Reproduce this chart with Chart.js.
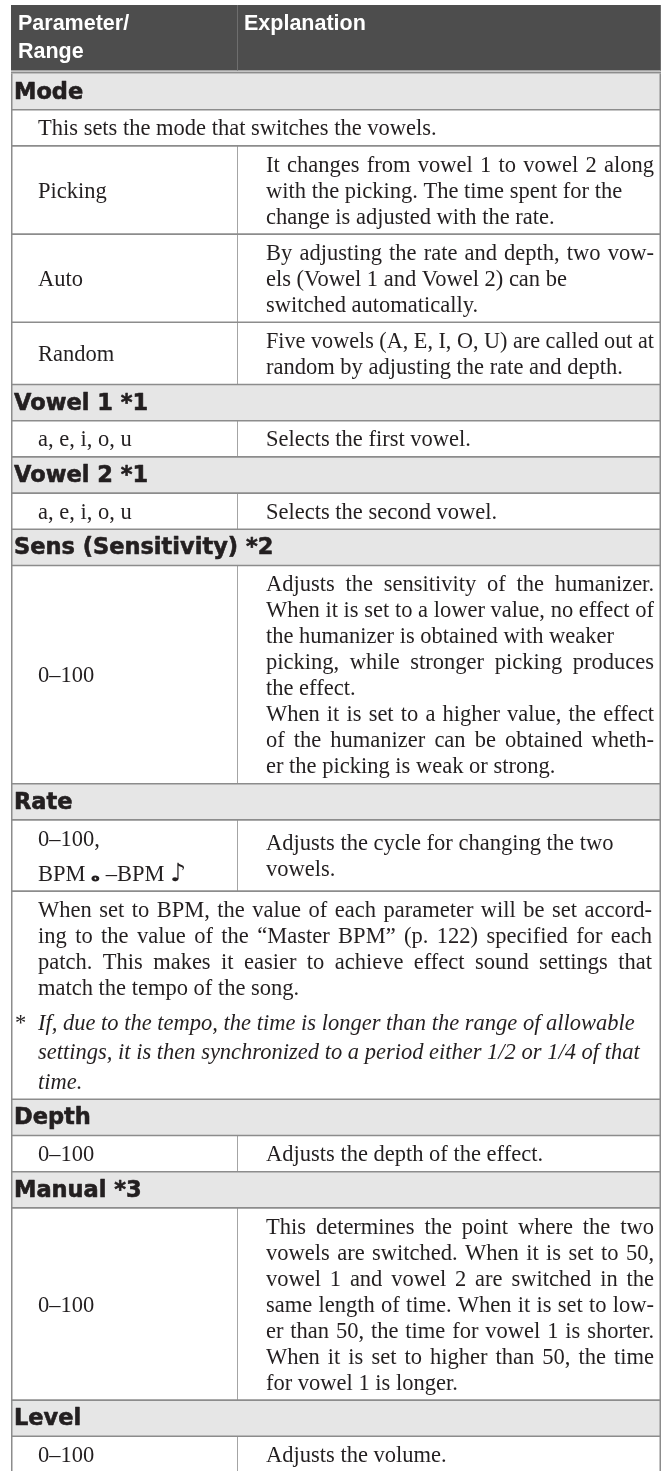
<!DOCTYPE html>
<html>
<head>
<meta charset="utf-8">
<script src="https://cdn.jsdelivr.net/npm/chart.js@4.4.1/dist/chart.umd.min.js"></script>
<style>
html,body{margin:0;padding:0;background:#ffffff;}
canvas{display:block;}
</style>
</head>
<body>
<canvas id="c" width="665" height="1471"></canvas>
<script>
// ---------- DATA ----------
const headerParam = ["Parameter/", "Range"];
const headerExpl = ["Explanation"];
const sectionTitles = ["Mode", "Vowel 1 *1", "Vowel 2 *1", "Sens (Sensitivity) *2", "Rate", "Depth", "Manual *3", "Level"];
const modeIntro = ["This sets the mode that switches the vowels."];
const modeParams = ["Picking", "Auto", "Random"];
const modeExpl = [
  ["It changes from vowel 1 to vowel 2 along", "with the picking. The time spent for the", "change is adjusted with the rate."],
  ["By adjusting the rate and depth, two vow-", "els (Vowel 1 and Vowel 2) can be", "switched automatically."],
  ["Five vowels (A, E, I, O, U) are called out at", "random by adjusting the rate and depth."]
];
const vowel1Params = ["a, e, i, o, u"];
const vowel1Expl = ["Selects the first vowel."];
const vowel2Params = ["a, e, i, o, u"];
const vowel2Expl = ["Selects the second vowel."];
const sensParams = ["0\u2013100"];
const sensExpl = [
  ["Adjusts the sensitivity of the humanizer.", "When it is set to a lower value, no effect of", "the humanizer is obtained with weaker", "picking, while stronger picking produces", "the effect."],
  ["When it is set to a higher value, the effect", "of the humanizer can be obtained wheth-", "er the picking is weak or strong."]
];
const rateParams = ["0\u2013100,", "BPM \u{1D15D} \u2013BPM \u266A"];
const rateExpl = ["Adjusts the cycle for changing the two", "vowels."];
const rateBpmText = [
  "When set to BPM, the value of each parameter will be set accord-",
  "ing to the value of the \u201CMaster BPM\u201D (p. 122) specified for each",
  "patch. This makes it easier to achieve effect sound settings that",
  "match the tempo of the song."
];
const rateFootnoteMark = "*";
const rateFootnote = [
  "If, due to the tempo, the time is longer than the range of allowable",
  "settings, it is then synchronized to a period either 1/2 or 1/4 of that",
  "time."
];
const depthParams = ["0\u2013100"];
const depthExpl = ["Adjusts the depth of the effect."];
const manualParams = ["0\u2013100"];
const manualExpl = [
  "This determines the point where the two", "vowels are switched. When it is set to 50,",
  "vowel 1 and vowel 2 are switched in the", "same length of time. When it is set to low-",
  "er than 50, the time for vowel 1 is shorter.", "When it is set to higher than 50, the time",
  "for vowel 1 is longer."
];
const levelParams = ["0\u2013100"];
const levelExpl = ["Adjusts the volume."];

// ---------- LAYOUT / STYLE CONSTANTS ----------
const CW = 665, CH = 1471;
const TABLE_TOP = 5, TABLE_LEFT = 11, TABLE_RIGHT = 661, COL_X = 237;
const HEADER_H = 65.5, HEADER_RULE_GAP = 1, HEADER_RULE_W = 2;
const ROW_H = 36.2, LINE = 26, NOTE_GAP = 35, NOTE_LINE = 29.5, MUSIC_LINE = 35;
const SECTION_X = 14, PARAM_X = 38, EXPL_X = 266, EXPL_RIGHT = 654, SPAN_X = 38, SPAN_RIGHT = 652, STAR_X = 15;
const HDR_PARAM_X = 18, HDR_EXPL_X = 244, HDR_BASE = 24.5, HDR_LINE = 28;
const BODY_BASE = 7.5, SECTION_BASE = 7;
const JUSTIFY_MIN = 0.92;
const BODY_FONT = '22.5px "Liberation Serif"';
const ITALIC_FONT = 'italic 22.5px "Liberation Serif"';
const SECTION_FONT = 'bold 22.5px "DejaVu Sans"';
const HEAD_FONT = 'bold 21.5px "Liberation Sans"';
const TEXT_COLOR = '#231f20', HEADER_BG = '#4d4d4d', HEADER_DIV = '#6e6e6e', SECTION_BG = '#e6e6e6';
const BORDER = '#8c8c8c', DIVIDER = '#a4a4a4';

// ---------- TABLE STRUCTURE (built from data arrays) ----------
const rows = [];
rows.push({kind: 'header', param: headerParam, expl: headerExpl});
rows.push({kind: 'section', title: sectionTitles[0]});
rows.push({kind: 'span', paras: [modeIntro]});
modeParams.forEach((p, i) => rows.push({kind: 'pair', param: [p], expl: [modeExpl[i]]}));
rows.push({kind: 'section', title: sectionTitles[1]});
rows.push({kind: 'pair', param: vowel1Params, expl: [vowel1Expl]});
rows.push({kind: 'section', title: sectionTitles[2]});
rows.push({kind: 'pair', param: vowel2Params, expl: [vowel2Expl]});
rows.push({kind: 'section', title: sectionTitles[3]});
rows.push({kind: 'pair', param: sensParams, expl: sensExpl});
rows.push({kind: 'section', title: sectionTitles[4]});
rows.push({kind: 'pair', param: rateParams, expl: [rateExpl], paramAdvance: MUSIC_LINE});
rows.push({kind: 'span', paras: [rateBpmText], note: rateFootnote, noteMark: rateFootnoteMark});
rows.push({kind: 'section', title: sectionTitles[5]});
rows.push({kind: 'pair', param: depthParams, expl: [depthExpl]});
rows.push({kind: 'section', title: sectionTitles[6]});
rows.push({kind: 'pair', param: manualParams, expl: [manualExpl]});
rows.push({kind: 'section', title: sectionTitles[7]});
rows.push({kind: 'pair', param: levelParams, expl: [levelExpl]});

function rowHeight(r) {
  if (r.kind === 'header') return HEADER_H;
  if (r.kind === 'section') return ROW_H;
  if (r.kind === 'pair') {
    const pl = r.param.length, el = r.expl.flat().length;
    const pAdv = r.paramAdvance || LINE;
    return ROW_H + Math.max((pl - 1) * pAdv, (el - 1) * LINE);
  }
  let h = ROW_H + (r.paras.flat().length - 1) * LINE;
  if (r.note) h += NOTE_GAP + (r.note.length - 1) * NOTE_LINE;
  return h;
}
let yCursor = TABLE_TOP;
rows.forEach(r => {
  r.top = yCursor;
  r.h = rowHeight(r);
  yCursor += r.h;
  if (r.kind === 'header') yCursor += HEADER_RULE_GAP + HEADER_RULE_W;
});

// ---------- DRAW HELPERS ----------
function drawLine(ctx, text, x, baseline, maxW, justify) {
  const nat = ctx.measureText(text).width;
  if (justify && nat < maxW && nat >= JUSTIFY_MIN * maxW) {
    const words = text.split(' ');
    if (words.length > 1) {
      const wordsW = words.reduce((s, w) => s + ctx.measureText(w).width, 0);
      const gap = (maxW - wordsW) / (words.length - 1);
      let cx = x;
      words.forEach(w => { ctx.fillText(w, cx, baseline); cx += ctx.measureText(w).width + gap; });
      return;
    }
  }
  if (nat > maxW) {
    ctx.save(); ctx.translate(x, baseline); ctx.scale(maxW / nat, 1); ctx.fillText(text, 0, 0); ctx.restore();
    return;
  }
  ctx.fillText(text, x, baseline);
}

function glyphAvailable(ctx, ch, font) {
  ctx.save();
  ctx.font = font;
  const a = ctx.measureText(ch).width, b = ctx.measureText('\u{10FFFD}').width;
  ctx.restore();
  return Math.abs(a - b) > 0.5;
}

function drawMusicLine(ctx, text, x, baseline) {
  const parts = Array.from(text);
  let cx = x;
  let buf = '';
  const flush = () => { if (buf) { ctx.font = BODY_FONT; ctx.fillText(buf, cx, baseline); cx += ctx.measureText(buf).width; buf = ''; } };
  parts.forEach(ch => {
    if (ch === '\u{1D15D}') {
      flush();
      if (glyphAvailable(ctx, ch, '22px "DejaVu Sans"')) {
        ctx.font = 'bold 22px "DejaVu Sans"';
        ctx.fillText(ch, cx, baseline);
        cx += ctx.measureText(ch).width;
      } else {
        ctx.font = 'bold 14px "DejaVu Serif"';
        ctx.fillText('o', cx + 1, baseline + 1);
        cx += ctx.measureText('o').width + 2;
      }
    } else if (ch === '\u266A') {
      flush();
      ctx.font = '25px "DejaVu Sans"';
      ctx.fillText(ch, cx, baseline);
      cx += ctx.measureText(ch).width;
    } else {
      buf += ch;
    }
  });
  flush();
}

// ---------- CHART.JS PLUGIN THAT DRAWS THE CELLS THROUGH THE SCALES ----------
const tablePlugin = {
  id: 'tableCells',
  beforeDraw(chart) {
    const ctx = chart.ctx;
    ctx.save();
    ctx.fillStyle = '#ffffff';
    ctx.fillRect(0, 0, chart.width, chart.height);
    ctx.restore();
  },
  afterDraw(chart) {
    const ctx = chart.ctx, xs = chart.scales.x, ys = chart.scales.y;
    const X = v => xs.getPixelForValue(v);
    const Y = v => ys.getPixelForValue(v);
    const L = X(TABLE_LEFT), R = X(TABLE_RIGHT);
    ctx.save();

    rows.forEach(r => {
      if (r.kind === 'header' || r.kind === 'section') {
        ctx.fillStyle = r.kind === 'header' ? HEADER_BG : SECTION_BG;
        ctx.fillRect(L, Y(r.top), R - L, Y(r.top + r.h) - Y(r.top));
      }
    });

    const header = rows[0];
    ctx.strokeStyle = HEADER_DIV; ctx.lineWidth = 1;
    ctx.beginPath(); ctx.moveTo(X(COL_X) + 0.5, Y(header.top)); ctx.lineTo(X(COL_X) + 0.5, Y(header.top + header.h)); ctx.stroke();
    ctx.beginPath(); ctx.moveTo(R - 0.5, Y(header.top)); ctx.lineTo(R - 0.5, Y(header.top + header.h)); ctx.stroke();
    ctx.fillStyle = BORDER;
    const ruleY = header.top + header.h + HEADER_RULE_GAP;
    ctx.fillRect(L, Y(ruleY), R - L, Y(ruleY + HEADER_RULE_W) - Y(ruleY));

    ctx.strokeStyle = DIVIDER; ctx.lineWidth = 1;
    rows.forEach(r => {
      if (r.kind === 'pair') {
        ctx.beginPath(); ctx.moveTo(X(COL_X) + 0.5, Y(r.top)); ctx.lineTo(X(COL_X) + 0.5, Y(r.top + r.h)); ctx.stroke();
      }
    });

    ctx.strokeStyle = BORDER; ctx.lineWidth = 1.6;
    rows.forEach((r, i) => {
      if (i >= 2) { ctx.beginPath(); ctx.moveTo(L, Y(r.top)); ctx.lineTo(R, Y(r.top)); ctx.stroke(); }
    });
    const last = rows[rows.length - 1];
    ctx.beginPath(); ctx.moveTo(L, Y(last.top + last.h)); ctx.lineTo(R, Y(last.top + last.h)); ctx.stroke();
    ctx.lineWidth = 1.5;
    const bodyTop = rows[1].top;
    ctx.beginPath(); ctx.moveTo(L + 0.75, Y(bodyTop)); ctx.lineTo(L + 0.75, Y(last.top + last.h)); ctx.stroke();
    ctx.beginPath(); ctx.moveTo(R - 0.75, Y(bodyTop)); ctx.lineTo(R - 0.75, Y(last.top + last.h)); ctx.stroke();

    ctx.textBaseline = 'alphabetic';
    ctx.textAlign = 'left';
    rows.forEach(r => {
      if (r.kind === 'header') {
        ctx.font = HEAD_FONT; ctx.fillStyle = '#ffffff';
        r.param.forEach((t, i) => ctx.fillText(t, X(HDR_PARAM_X), Y(r.top + HDR_BASE + i * HDR_LINE)));
        r.expl.forEach((t, i) => ctx.fillText(t, X(HDR_EXPL_X), Y(r.top + HDR_BASE + i * HDR_LINE)));
        return;
      }
      ctx.fillStyle = TEXT_COLOR;
      if (r.kind === 'section') {
        ctx.font = SECTION_FONT;
        ctx.strokeStyle = TEXT_COLOR; ctx.lineWidth = 0.6; ctx.lineJoin = 'round';
        const bx = X(SECTION_X), by = Y(r.top + r.h / 2 + SECTION_BASE);
        ctx.fillText(r.title, bx, by);
        ctx.strokeText(r.title, bx, by);
        return;
      }
      if (r.kind === 'pair') {
        const pAdv = r.paramAdvance || LINE;
        const p0 = r.top + (r.h - (r.param.length - 1) * pAdv) / 2;
        r.param.forEach((t, i) => {
          const base = Y(p0 + i * pAdv + BODY_BASE);
          if (/[\u{1D15D}\u266A]/u.test(t)) drawMusicLine(ctx, t, X(PARAM_X), base);
          else { ctx.font = BODY_FONT; ctx.fillText(t, X(PARAM_X), base); }
        });
        const lines = [];
        r.expl.forEach(par => par.forEach((t, j) => lines.push({t, justify: j < par.length - 1})));
        const e0 = r.top + (r.h - (lines.length - 1) * LINE) / 2;
        ctx.font = BODY_FONT;
        lines.forEach((ln, i) => drawLine(ctx, ln.t, X(EXPL_X), Y(e0 + i * LINE + BODY_BASE), X(EXPL_RIGHT) - X(EXPL_X), ln.justify));
        return;
      }
      ctx.font = BODY_FONT;
      let c = r.top + ROW_H / 2;
      const flat = [];
      r.paras.forEach(par => par.forEach((t, j) => flat.push({t, justify: j < par.length - 1})));
      flat.forEach((ln, i) => {
        if (i > 0) c += LINE;
        drawLine(ctx, ln.t, X(SPAN_X), Y(c + BODY_BASE), X(SPAN_RIGHT) - X(SPAN_X), ln.justify);
      });
      if (r.note) {
        c += NOTE_GAP;
        ctx.font = BODY_FONT;
        ctx.fillText(r.noteMark, X(STAR_X), Y(c + BODY_BASE));
        ctx.font = ITALIC_FONT;
        r.note.forEach((t, i) => {
          if (i > 0) c += NOTE_LINE;
          ctx.fillText(t, X(SPAN_X), Y(c + BODY_BASE));
        });
      }
    });
    ctx.restore();
  }
};

new Chart(document.getElementById('c'), {
  type: 'scatter',
  data: { datasets: [{ data: [], showLine: false }] },
  options: {
    responsive: false,
    animation: false,
    devicePixelRatio: 1,
    layout: { padding: 0 },
    plugins: { legend: { display: false }, tooltip: { enabled: false } },
    scales: {
      x: { type: 'linear', display: false, min: 0, max: CW },
      y: { type: 'linear', display: false, min: 0, max: CH, reverse: true }
    }
  },
  plugins: [tablePlugin]
});
</script>
</body>
</html>
